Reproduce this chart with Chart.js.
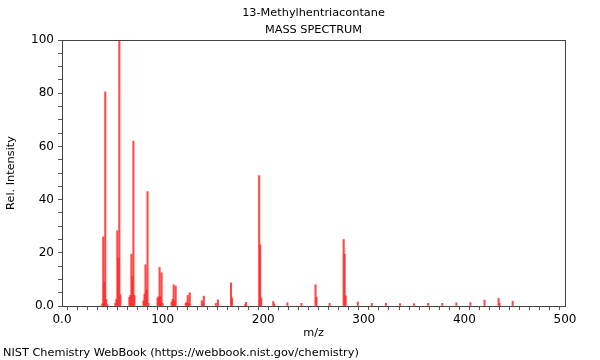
<!DOCTYPE html>
<html>
<head>
<meta charset="utf-8">
<script src="https://cdn.jsdelivr.net/npm/chart.js@4.4.1/dist/chart.umd.min.js"></script>
<style>
  html, body { margin: 0; padding: 0; background: #fff; }
</style>
</head>
<body>
<canvas id="spectrum" width="600" height="360"></canvas>
<script>
// peaks
const mz = [40, 41, 42, 43, 44, 45,
  53, 54, 55, 56, 57, 58,
  67, 68, 69, 70, 71, 72,
  81, 82, 83, 84, 85, 86,
  95, 96, 97, 98, 99, 100,
  109, 110, 111, 112, 113,
  123, 124, 125, 126, 127,
  139, 140, 141,
  153, 155,
  168, 169,
  182, 183,
  196, 197, 198,
  210, 211, 224, 238, 252, 253, 266,
  280, 281, 282,
  294, 308, 322, 336, 350, 364, 378, 392, 406, 420, 434, 435, 448];
const intensity = [0.8, 26, 9, 80.5, 2.5, 0.5,
  1, 2.5, 28.3, 18, 100, 4.3,
  3.3, 4, 19.5, 11, 62, 4,
  2, 4.5, 15.5, 6, 43, 1,
  3, 3.5, 14.5, 3.5, 12.5, 1,
  1.5, 2.5, 8, 2, 7.5,
  1, 1.5, 4, 1, 5,
  2, 0.8, 3.7,
  1, 2.3,
  8.7, 3,
  0.5, 1.4,
  49, 23, 3,
  1.7, 0.8, 1.2, 1, 8, 3.3, 1,
  25, 19.5, 3.8,
  1.5, 1, 1, 0.9, 0.9, 1, 1, 1.2, 1.3, 2.2, 2.9, 1, 1.8];
const titleLines = ['13-Methylhentriacontane', 'MASS SPECTRUM'];
const xLabel = 'm/z';
const yLabel = 'Rel. Intensity';
const footer = 'NIST Chemistry WebBook (https://webbook.nist.gov/chemistry)';

const points = mz.map((m, i) => ({ x: m, y: intensity[i] }));
const FONT = '"DejaVu Sans", sans-serif';

// frame + texts
const decor = {
  id: 'decor',
  afterDraw(chart) {
    const { ctx, chartArea: a } = chart;
    ctx.save();
    ctx.strokeStyle = '#444';
    ctx.lineWidth = 1;
    ctx.strokeRect(a.left + 0.5, a.top + 0.5, a.right - a.left, a.bottom - a.top);
    ctx.fillStyle = '#000';
    ctx.font = '11.3px ' + FONT;
    ctx.textAlign = 'center';
    ctx.textBaseline = 'middle';
    const cx = (a.left + a.right) / 2;
    ctx.fillText(titleLines[0], cx, 13);
    ctx.fillText(titleLines[1], cx, 30);
    ctx.fillText(xLabel, cx, 333);
    ctx.textAlign = 'left';
    ctx.fillText(footer, 3, 353);
    ctx.translate(11, (a.top + a.bottom) / 2);
    ctx.rotate(-Math.PI / 2);
    ctx.textAlign = 'center';
    ctx.fillText(yLabel, 0, 0);
    ctx.restore();
  }
};

new Chart(document.getElementById('spectrum'), {
  type: 'bar',
  data: {
    datasets: [{
      data: points,
      backgroundColor: 'rgba(255, 40, 40, 0.85)',
      barThickness: 1.4,
      borderWidth: 0
    }]
  },
  options: {
    responsive: false,
    animation: false,
    maintainAspectRatio: false,
    layout: { padding: { top: 40, right: 35, left: 0, bottom: 0 } },
    plugins: { legend: { display: false }, tooltip: { enabled: false } },
    scales: {
      x: {
        type: 'linear',
        min: 0, max: 500,
        offset: false,
        afterFit: s => { s.height = 54; },
        grid: { drawOnChartArea: false, tickLength: 4, color: '#555', tickColor: '#555' },
        border: { display: false },
        ticks: {
          stepSize: 10, autoSkip: false, maxRotation: 0, padding: 3,
          color: '#000', font: { family: FONT, size: 12 },
          callback: v => v === 0 ? '0.0' : (v % 100 === 0 ? String(v) : '')
        }
      },
      y: {
        min: 0, max: 100,
        afterFit: s => { s.width = 62; },
        grid: { drawOnChartArea: false, tickLength: 4, color: '#555', tickColor: '#555' },
        border: { display: false },
        ticks: {
          stepSize: 5, autoSkip: false, padding: 4,
          color: '#000', font: { family: FONT, size: 12 },
          callback: v => v === 0 ? '0.0' : (v % 20 === 0 ? String(v) : '')
        }
      }
    }
  },
  plugins: [decor]
});
</script>
</body>
</html>
